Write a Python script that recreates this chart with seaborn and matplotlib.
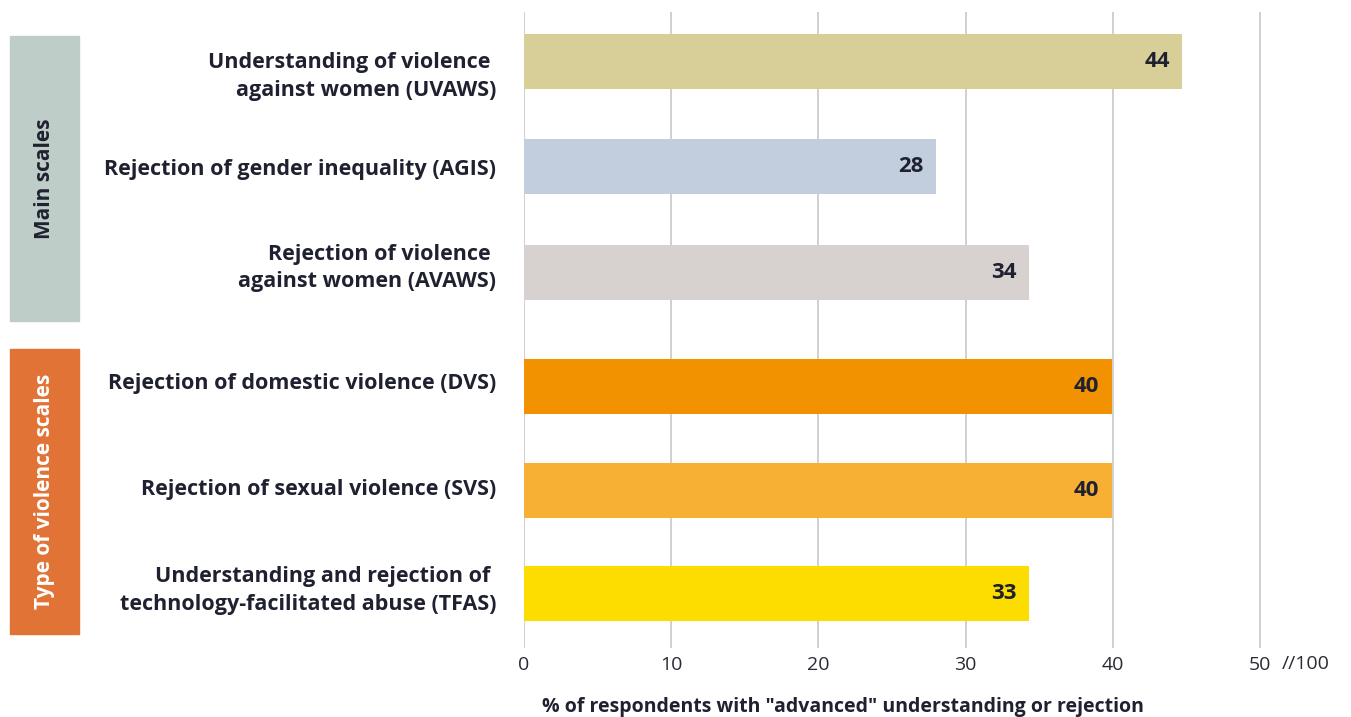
import matplotlib
matplotlib.use("Agg")
import matplotlib.pyplot as plt
import matplotlib.transforms as mtransforms
import seaborn as sns
import pandas as pd
from matplotlib.patches import Rectangle

# ==========================================
# DATA
# ==========================================

labels = [
    "Understanding of violence \nagainst women (UVAWS)",
    "Rejection of gender inequality (AGIS)",
    "Rejection of violence \nagainst women (AVAWS)",
    "Rejection of domestic violence (DVS)",
    "Rejection of sexual violence (SVS)",
    "Understanding and rejection of \ntechnology-facilitated abuse (TFAS)",
]
bar_values = [44.7, 28.0, 34.3, 39.9, 39.9, 34.3]
value_labels = ["44", "28", "34", "40", "40", "33"]
positions = [0, 1.01, 2.02, 3.12, 4.11, 5.1]
colors = ["#D8CF98", "#C2CEDE", "#D7D2D0", "#F29200", "#F7B034", "#FDDC00"]

groups = ["Main scales", "Type of violence scales"]
group_colors = ["#BFCDC8", "#E07335"]
group_text_colors = ["#1F2130", "#FFFFFF"]

xticks = [0, 10, 20, 30, 40, 50]

TEXT = "#1F2130"

# small vertical nudges (px, down is positive) of the category labels
label_dy = [15, 2.5, -4.5, -3, -1, -3]

# ==========================================
# PLOT
# ==========================================

sns.set_style("white")
plt.rcParams["font.family"] = ["Open Sans", "DejaVu Sans"]

fig = plt.figure(figsize=(13.51, 7.17), dpi=100)
ax = fig.add_axes([524 / 1351, 1 - 648 / 717, (1300 - 524) / 1351, (648 - 12) / 717])

df = pd.DataFrame({"pos": positions, "value": bar_values, "name": labels})

sns.barplot(
    data=df, x="value", y="pos", hue="name", orient="h",
    native_scale=True, palette=colors, width=0.532,
    legend=False, ax=ax, saturation=1, edgecolor="none"
)

ax.set_xlim(0, 52.7)
ax.set_ylim(5.1 + 0.2635 + 27 / 104.3, -0.2635 - 22 / 104.3)

for x in xticks:
    ax.axvline(x, color="#D0D0D0", lw=1.4, zorder=0)

ax.set_xticks(xticks)
ax.set_xticklabels([str(t) for t in xticks], fontsize=14, color="#2A2A35")
ax.tick_params(axis="x", length=0, pad=6)
ax.set_yticks([])
ax.set_xlabel("")
ax.set_ylabel("")
for s in ax.spines.values():
    s.set_visible(False)

fig.text(1282 / 1351, 1 - 664 / 717, "//100", ha="left", va="center",
         fontsize=14, color="#2A2A35")

# category labels
for p, name, dy in zip(positions, labels, label_dy):
    tr = mtransforms.offset_copy(ax.transData, fig=fig, x=0, y=-dy, units="dots")
    ax.text(-1.9, p, name, ha="right", va="center", fontsize=15.5,
            fontweight="bold", color=TEXT, linespacing=1.38, transform=tr)

# value labels
for p, v, lab in zip(positions, bar_values, value_labels):
    ax.text(v - 0.85, p, lab, ha="right", va="center", fontsize=16,
            fontweight="bold", color=TEXT)

# group boxes
box_y = [(36, 321), (349, 634)]
for (y0, y1), g, gc, tc in zip(box_y, groups, group_colors, group_text_colors):
    fig.patches.append(Rectangle((10 / 1351, 1 - y1 / 717), 69 / 1351, (y1 - y0) / 717,
                                 transform=fig.transFigure, color=gc, zorder=0))
    fig.text(44.5 / 1351, 1 - (y0 + y1) / 2 / 717, g, rotation=90,
             ha="center", va="center", fontsize=15, fontweight="bold", color=tc)

fig.text(843 / 1351, 1 - 707 / 717, '% of respondents with "advanced" understanding or rejection',
         ha="center", va="center", fontsize=14, fontweight="bold", color=TEXT)

fig.savefig("out.png", dpi=100)
